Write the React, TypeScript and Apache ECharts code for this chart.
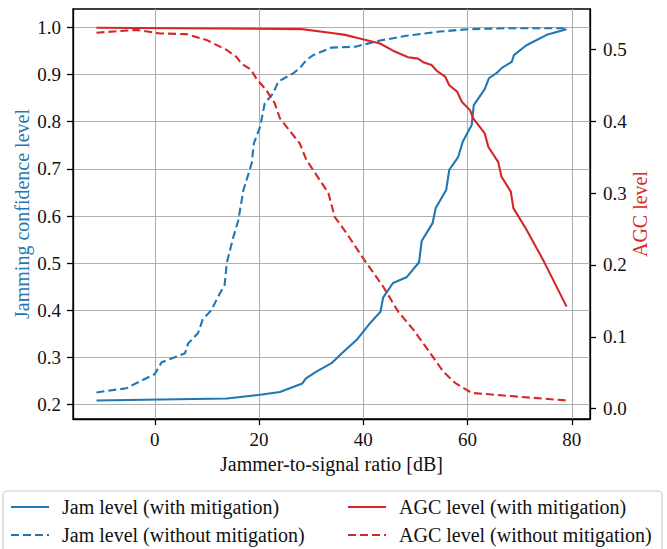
import React, { useEffect, useRef } from "react";
import * as echarts from "echarts";

// ---- Data ----
const jamWithX = [-11.2, 13.8, 20.2, 24, 28.3, 29, 31, 33.9, 36.1, 38.7, 41.3, 43.3, 43.8, 45.7, 48.3, 50.7, 51.2, 53.3, 53.9, 55.9, 56.5, 58.2, 59.1, 60.8, 61.2, 63.3, 64.1, 65.7, 66.6, 68.5, 68.9, 71.3, 75.2, 79];
const jamWithY = [0.209, 0.213, 0.221, 0.227, 0.245, 0.256, 0.27, 0.288, 0.311, 0.337, 0.373, 0.397, 0.427, 0.458, 0.47, 0.502, 0.547, 0.585, 0.617, 0.655, 0.698, 0.725, 0.758, 0.793, 0.835, 0.869, 0.892, 0.904, 0.914, 0.927, 0.941, 0.962, 0.984, 0.996];

const jamWithoutX = [-11.2, -5.4, -3.5, 0, 1.3, 5.8, 6.4, 8.3, 9.2, 10.9, 11.9, 13.4, 13.8, 15.0, 16.0, 17, 18.6, 19.0, 20.2, 21.1, 22.7, 23.7, 26.6, 27.8, 29.1, 30.4, 33.9, 38.5, 43.2, 48.3, 54.7, 60.1, 67.5, 79];
const jamWithoutY = [0.226, 0.235, 0.246, 0.265, 0.29, 0.309, 0.33, 0.352, 0.381, 0.401, 0.424, 0.454, 0.5, 0.553, 0.59, 0.655, 0.712, 0.754, 0.789, 0.839, 0.86, 0.885, 0.903, 0.913, 0.931, 0.941, 0.957, 0.959, 0.972, 0.982, 0.991, 0.996, 0.998, 0.998];

const agcWithX = [-11.2, 28.2, 33.6, 36.5, 39.3, 43.2, 45.7, 48.6, 50.5, 51.5, 53.1, 54.1, 55.7, 56.5, 58.0, 58.9, 60.5, 61.1, 63.3, 64, 65.9, 66.5, 68.3, 68.8, 71, 74.5, 79];
const agcWithY = [0.53, 0.528, 0.523, 0.52, 0.515, 0.508, 0.498, 0.489, 0.487, 0.482, 0.478, 0.47, 0.462, 0.45, 0.441, 0.427, 0.415, 0.404, 0.383, 0.364, 0.343, 0.323, 0.302, 0.279, 0.253, 0.207, 0.142];

const agcWithoutX = [-11.2, -3.5, 1.0, 6.1, 9.9, 13.8, 15.7, 16.6, 18.4, 19.5, 21.4, 23.0, 24.0, 27.8, 29.1, 33.3, 34.5, 36.8, 40.0, 43.8, 46.7, 49.6, 52.2, 55.3, 57.6, 60.8, 67.5, 79];
const agcWithoutY = [0.523, 0.527, 0.522, 0.521, 0.513, 0.499, 0.489, 0.48, 0.472, 0.459, 0.443, 0.425, 0.404, 0.369, 0.346, 0.3, 0.267, 0.244, 0.209, 0.17, 0.135, 0.11, 0.084, 0.052, 0.036, 0.022, 0.018, 0.0115];

const xTicks = [0, 20, 40, 60, 80];
const leftTicks = [0.2, 0.3, 0.4, 0.5, 0.6, 0.7, 0.8, 0.9, 1.0];
const rightTicks = [0.0, 0.1, 0.2, 0.3, 0.4, 0.5];

const seriesNames = [
  "Jam level (with mitigation)",
  "Jam level (without mitigation)",
  "AGC level (with mitigation)",
  "AGC level (without mitigation)",
];

const BLUE = "#1f77b4";
const RED = "#d62728";
const FONT = "'Liberation Serif', 'Times New Roman', serif";

const zip = (xs: number[], ys: number[]) => xs.map((x, i) => [x, ys[i]]);

export default function App() {
  const ref = useRef<HTMLDivElement>(null);

  useEffect(() => {
    if (!ref.current) return;
    const chart = echarts.init(ref.current, undefined, { renderer: "svg" });

    const tickLabel = {
      fontFamily: FONT,
      fontSize: 19,
      color: "#111",
    };

    const legendBase = {
      orient: "vertical",
      top: 497,
      padding: 0,
      itemGap: 8,
      itemWidth: 38,
      itemHeight: 14,
      selectedMode: false,
      itemStyle: { opacity: 0, borderWidth: 0 },
      textStyle: { fontFamily: FONT, fontSize: 20, color: "#111", padding: [0, 0, 0, 8], lineHeight: 20 },
    };

    const option: any = {
      animation: false,
      backgroundColor: "#fff",
      textStyle: { fontFamily: FONT },
      grid: {
        left: 73,
        right: 77,
        top: 9,
        bottom: 130,
        show: true,
        borderColor: "#000",
        borderWidth: 1.3,
        backgroundColor: "transparent",
        outerBoundsMode: "none",
      },
      xAxis: {
        type: "value",
        min: -15.7,
        max: 83.5,
        splitNumber: 5,
        name: "Jammer-to-signal ratio [dB]",
        nameLocation: "middle",
        nameGap: 35,
        nameMoveOverlap: false,
        nameTextStyle: { fontFamily: FONT, fontSize: 20, color: "#111" },
        axisLine: { show: true, onZero: false, lineStyle: { color: "#000", width: 1.3 } },
        axisTick: { show: true, length: 6, customValues: xTicks, lineStyle: { color: "#000", width: 1.3 } },
        axisLabel: {
          ...tickLabel,
          margin: 11,
          customValues: xTicks,
          formatter: (v: number) => String(Math.round(v)),
        },
        splitLine: { show: true, lineStyle: { color: "#b0b0b0", width: 1.1 } },
      },
      yAxis: [
        {
          type: "value",
          min: 0.1697,
          max: 1.0388,
          splitNumber: 8,
          position: "left",
          name: "Jamming confidence level",
          nameLocation: "middle",
          nameRotate: 90,
          nameGap: 41,
          nameMoveOverlap: false,
          nameTextStyle: { fontFamily: FONT, fontSize: 20, color: BLUE },
          axisLine: { show: true, onZero: false, lineStyle: { color: "#000", width: 1.3 } },
          axisTick: { show: true, length: 6, customValues: leftTicks, lineStyle: { color: "#000", width: 1.3 } },
          axisLabel: {
            ...tickLabel,
            margin: 12,
            customValues: leftTicks,
            formatter: (v: number) => v.toFixed(1),
          },
          splitLine: { show: true, lineStyle: { color: "#b0b0b0", width: 1.1 } },
        },
        {
          type: "value",
          min: -0.0143,
          max: 0.556,
          splitNumber: 5,
          position: "right",
          name: "AGC level",
          nameLocation: "middle",
          nameRotate: 90,
          nameGap: 40,
          nameMoveOverlap: false,
          nameTextStyle: { fontFamily: FONT, fontSize: 20, color: RED },
          axisLine: { show: true, onZero: false, lineStyle: { color: "#000", width: 1.3 } },
          axisTick: { show: true, length: 6, customValues: rightTicks, lineStyle: { color: "#000", width: 1.3 } },
          axisLabel: {
            ...tickLabel,
            margin: 13,
            customValues: rightTicks,
            formatter: (v: number) => v.toFixed(1),
          },
          splitLine: { show: false },
        },
      ],
      legend: [
        { ...legendBase, left: 10, data: [seriesNames[0], seriesNames[1]] },
        { ...legendBase, left: 347, data: [seriesNames[2], seriesNames[3]] },
      ],
      graphic: [
        {
          type: "rect",
          z: 0,
          shape: { x: 3, y: 491, width: 659, height: 75, r: 4 },
          style: { fill: "#fff", stroke: "#cccccc", lineWidth: 1.2 },
        },
      ],
      series: [
        {
          name: seriesNames[0],
          type: "line",
          yAxisIndex: 0,
          data: zip(jamWithX, jamWithY),
          symbol: "none",
          lineStyle: { color: BLUE, width: 2.1 },
          itemStyle: { color: BLUE },
          z: 3,
        },
        {
          name: seriesNames[1],
          type: "line",
          yAxisIndex: 0,
          data: zip(jamWithoutX, jamWithoutY),
          symbol: "none",
          lineStyle: { color: BLUE, width: 2.1, type: [8, 4] },
          itemStyle: { color: BLUE },
          z: 3,
        },
        {
          name: seriesNames[2],
          type: "line",
          yAxisIndex: 1,
          data: zip(agcWithX, agcWithY),
          symbol: "none",
          lineStyle: { color: RED, width: 2.1 },
          itemStyle: { color: RED },
          z: 3,
        },
        {
          name: seriesNames[3],
          type: "line",
          yAxisIndex: 1,
          data: zip(agcWithoutX, agcWithoutY),
          symbol: "none",
          lineStyle: { color: RED, width: 2.1, type: [8, 4] },
          itemStyle: { color: RED },
          z: 3,
        },
      ],
    };

    chart.setOption(option);
    return () => chart.dispose();
  }, []);

  return (
    <div
      ref={ref}
      style={{ position: "fixed", left: 0, top: 0, width: 667, height: 549, background: "#fff" }}
    />
  );
}
